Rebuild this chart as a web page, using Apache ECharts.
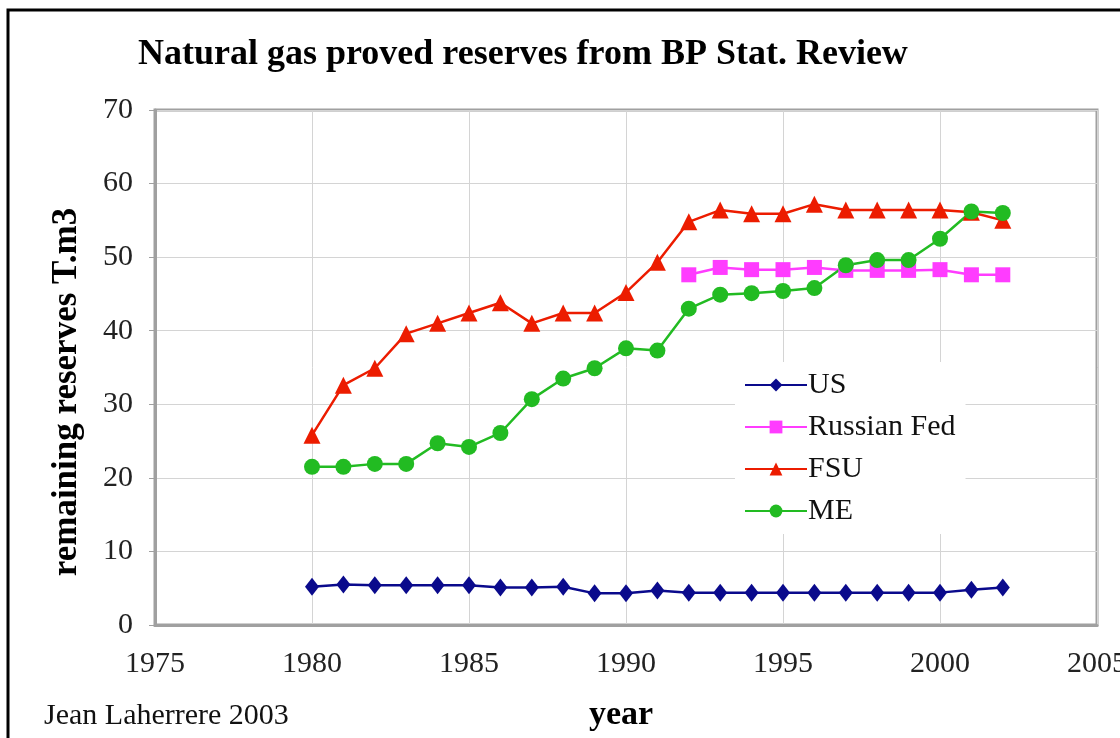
<!DOCTYPE html>
<html>
<head>
<meta charset="utf-8">
<script src="https://cdn.jsdelivr.net/npm/echarts@6/dist/echarts.min.js"></script>
<style>html,body{margin:0;padding:0;background:#fff;}#c{width:1120px;height:738px;}</style>
</head>
<body>
<div id="c"></div>
<script>
var years = [1980,1981,1982,1983,1984,1985,1986,1987,1988,1989,1990,1991,1992,1993,1994,1995,1996,1997,1998,1999,2000,2001,2002];
var usValues = [5.2,5.5,5.4,5.4,5.4,5.4,5.1,5.1,5.2,4.3,4.3,4.7,4.4,4.4,4.4,4.4,4.4,4.4,4.4,4.4,4.4,4.8,5.1];
var rusYears = [1992,1993,1994,1995,1996,1997,1998,1999,2000,2001,2002];
var rusValues = [47.6,48.6,48.3,48.3,48.6,48.2,48.2,48.2,48.3,47.6,47.6];
var fsuValues = [25.8,32.6,34.9,39.6,41.0,42.4,43.8,41.0,42.4,42.4,45.2,49.3,54.8,56.4,55.9,55.9,57.2,56.4,56.4,56.4,56.4,56.1,55.0];
var meValues = [21.5,21.5,21.9,21.9,24.7,24.2,26.1,30.7,33.5,34.9,37.6,37.3,43.0,44.9,45.1,45.4,45.8,48.9,49.6,49.6,52.5,56.2,56.0];
var xTicks = [1975,1980,1985,1990,1995,2000,2005];
var yTicks = [0,10,20,30,40,50,60,70];

function pairs(xs, ys){ return xs.map(function(x,i){ return [x, ys[i]]; }); }

var serif = '"Liberation Serif","DejaVu Serif",serif';
var chart = echarts.init(document.getElementById('c'));
chart.setOption({
  animation: false,
  backgroundColor: '#fff',
  title: {
    text: 'Natural gas proved reserves from BP Stat. Review',
    left: 133, top: 32,
    textStyle: {fontFamily: serif, fontWeight: 'bold', fontSize: 36, color: '#000'}
  },
  graphic: [
    {type: 'rect', shape: {x: 8, y: 10, width: 1200, height: 800}, style: {fill: 'none', stroke: '#000', lineWidth: 3}, silent: true},
    {type: 'text', left: 44, top: 701, style: {text: 'Jean Laherrere 2003', font: '30px "Liberation Serif", serif', fill: '#111'}},
    {type: 'text', left: 589, top: 698, style: {text: 'year', font: 'bold 34px "Liberation Serif", serif', fill: '#000'}},
    {type: 'text', x: 67, y: 392, rotation: Math.PI / 2,
     style: {text: 'remaining reserves T.m3', font: 'bold 35px "Liberation Serif", serif', fill: '#000', align: 'center', verticalAlign: 'middle'}}
  ],
  legend: {
    left: 735, top: 362, orient: 'vertical',
    backgroundColor: '#fff', padding: [8, 10, 8, 9],
    itemWidth: 62, itemHeight: 16, itemGap: 12,
    textStyle: {fontFamily: serif, fontSize: 30, color: '#111', padding: [0,0,0,-4]},
    data: ['US','Russian Fed','FSU','ME']
  },
  grid: {left: 155, top: 110, right: 23, bottom: 113, outerBoundsMode: 'none', containLabel: false,
         show: true, borderColor: '#a0a0a0', borderWidth: 3, backgroundColor: 'transparent'},
  xAxis: {
    type: 'value', min: xTicks[0], max: xTicks[xTicks.length-1], interval: 5,
    axisLine: {show: true, lineStyle: {color: '#a0a0a0', width: 3}},
    axisTick: {show: false},
    axisLabel: {fontFamily: serif, fontSize: 30, color: '#222', margin: 24, formatter: function(v){return String(v);}},
    splitLine: {show: true, lineStyle: {color: '#d4d4d4', width: 1}}
  },
  yAxis: {
    type: 'value', min: yTicks[0], max: yTicks[yTicks.length-1], interval: 10,
    axisLine: {show: true, lineStyle: {color: '#a0a0a0', width: 3}},
    axisTick: {show: true, length: 6, lineStyle: {color: '#a0a0a0'}},
    axisLabel: {fontFamily: serif, fontSize: 30, color: '#222', margin: 22},
    splitLine: {show: true, lineStyle: {color: '#d4d4d4', width: 1}}
  },
  series: [
    {name: 'US', type: 'line', data: pairs(years, usValues), symbol: 'diamond', symbolSize: [14, 18],
     itemStyle: {color: '#0a0a8c'}, lineStyle: {color: '#0a0a8c', width: 2.5}},
    {name: 'Russian Fed', type: 'line', data: pairs(rusYears, rusValues), symbol: 'rect', symbolSize: 15,
     itemStyle: {color: '#ff3cff'}, lineStyle: {color: '#ff3cff', width: 2.5}},
    {name: 'FSU', type: 'line', data: pairs(years, fsuValues), symbol: 'triangle', symbolSize: 17,
     itemStyle: {color: '#ec1c00'}, lineStyle: {color: '#ec1c00', width: 2.5}},
    {name: 'ME', type: 'line', data: pairs(years, meValues), symbol: 'circle', symbolSize: 16,
     itemStyle: {color: '#22bb22'}, lineStyle: {color: '#22bb22', width: 2.5}}
  ]
});
</script>
</body>
</html>
